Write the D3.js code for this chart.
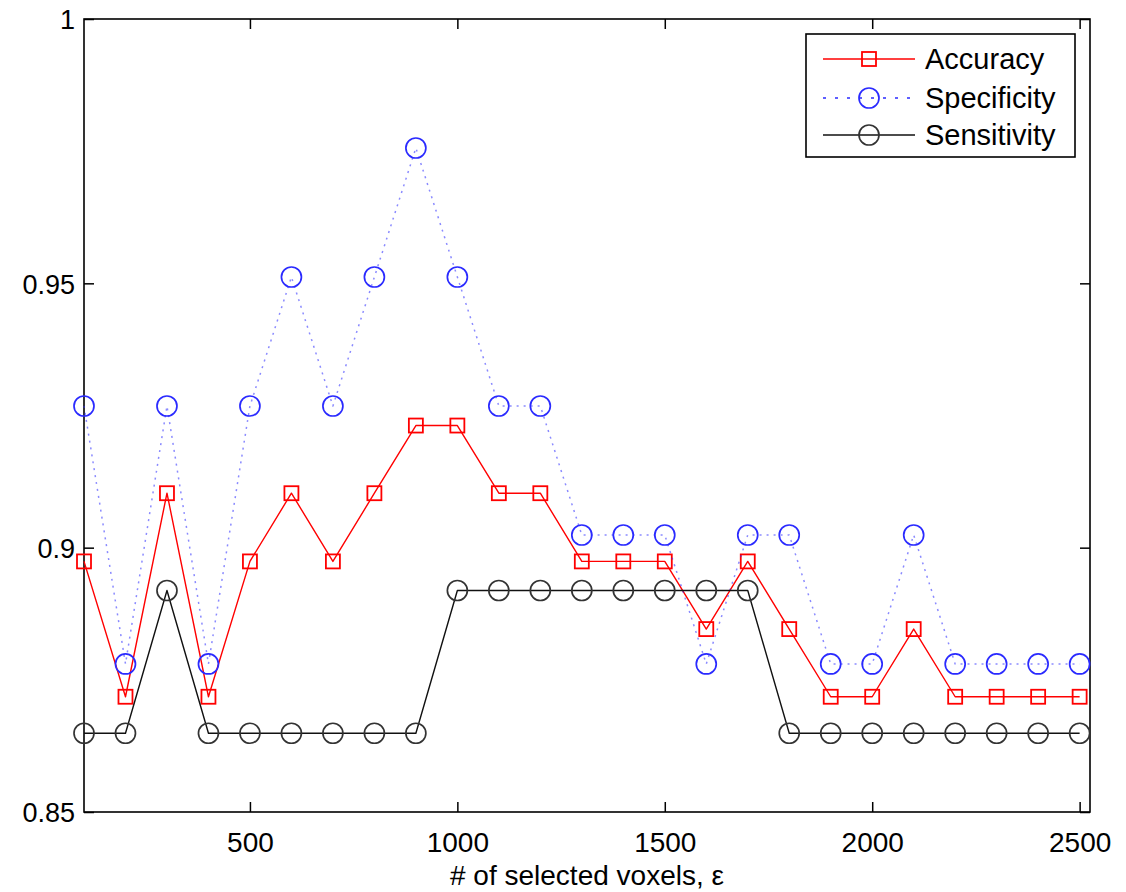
<!DOCTYPE html>
<html>
<head>
<meta charset="utf-8">
<script src="https://cdn.jsdelivr.net/npm/d3@7"></script>
<style>
  html, body { margin: 0; padding: 0; background: #fff; }
  svg { display: block; font-family: "Liberation Sans", Arial, sans-serif; }
</style>
</head>
<body>
<svg id="chart" width="1126" height="892"></svg>
<script>
// ---- data ----
const voxels = [100,200,300,400,500,600,700,800,900,1000,1100,1200,1300,1400,1500,1600,1700,1800,1900,2000,2100,2200,2300,2400,2500];
const accuracy = [0.8974,0.8718,0.9103,0.8718,0.8974,0.9103,0.8974,0.9103,0.9231,0.9231,0.9103,0.9103,0.8974,0.8974,0.8974,0.8846,0.8974,0.8846,0.8718,0.8718,0.8846,0.8718,0.8718,0.8718,0.8718];
const specificity = [0.9268,0.8780,0.9268,0.8780,0.9268,0.9512,0.9268,0.9512,0.9756,0.9512,0.9268,0.9268,0.9024,0.9024,0.9024,0.8780,0.9024,0.9024,0.8780,0.8780,0.9024,0.8780,0.8780,0.8780,0.8780];
const sensitivity = [0.8649,0.8649,0.8919,0.8649,0.8649,0.8649,0.8649,0.8649,0.8649,0.8919,0.8919,0.8919,0.8919,0.8919,0.8919,0.8919,0.8919,0.8649,0.8649,0.8649,0.8649,0.8649,0.8649,0.8649,0.8649];
const xTicks = [500,1000,1500,2000,2500];
const yTicks = [0.85,0.9,0.95,1];
const yTickLabels = ["0.85","0.9","0.95","1"];
const seriesNames = ["Accuracy","Specificity","Sensitivity"];
const xLabel = "# of selected voxels, ε";

// ---- layout ----
const L = 84, R = 1090, T = 19, B = 812;
const svg = d3.select("#chart");
const x = d3.scaleLinear().domain([100, 2525]).range([L, R]);
const y = d3.scaleLinear().domain([0.85, 1]).range([B, T]);

const styles = {
  Accuracy:    {color: "#ff0000", dash: null,   width: 1.4, marker: "square"},
  Specificity: {color: "#2a2aff", dash: "2,5",  width: 1.5, marker: "circle"},
  Sensitivity: {color: "#111111", dash: null,   width: 1.4, marker: "circle"}
};
const seriesData = {Accuracy: accuracy, Specificity: specificity, Sensitivity: sensitivity};

// axes frame with inward ticks
const tickLen = 10;
const gx = svg.append("g").attr("transform", `translate(0,${B})`)
  .call(d3.axisBottom(x).tickValues(xTicks).tickSizeInner(-tickLen).tickSizeOuter(0).tickFormat(d3.format("d")));
const gxTop = svg.append("g").attr("transform", `translate(0,${T})`)
  .call(d3.axisTop(x).tickValues(xTicks).tickSizeInner(-tickLen).tickSizeOuter(0).tickFormat(""));
const gy = svg.append("g").attr("transform", `translate(${L},0)`)
  .call(d3.axisLeft(y).tickValues(yTicks).tickSizeInner(-tickLen).tickSizeOuter(0).tickFormat((d,i) => yTickLabels[i]));
const gyR = svg.append("g").attr("transform", `translate(${R},0)`)
  .call(d3.axisRight(y).tickValues(yTicks).tickSizeInner(-tickLen).tickSizeOuter(0).tickFormat(""));
[gx, gxTop, gy, gyR].forEach(g => {
  g.select(".domain").remove();
  g.selectAll(".tick line").attr("stroke", "#000").attr("stroke-width", 1.5);
});
gx.selectAll(".tick text").attr("font-size", 28).attr("fill", "#000")
  .attr("font-family", "Liberation Sans, Arial, sans-serif").attr("y", 40).attr("dy", 0);
gy.selectAll(".tick text").attr("font-size", 27).attr("fill", "#000")
  .attr("font-family", "Liberation Sans, Arial, sans-serif").attr("x", -9).attr("dy", "0.36em");

svg.append("rect").attr("x", L).attr("y", T).attr("width", R - L).attr("height", B - T)
  .attr("fill", "none").attr("stroke", "#000").attr("stroke-width", 1.6);

const plot = svg.append("g");

function drawMarker(g, type, cx, cy, color) {
  if (type === "square") {
    g.append("rect").attr("x", cx - 7).attr("y", cy - 7).attr("width", 14).attr("height", 14)
      .attr("fill", "none").attr("stroke", color).attr("stroke-width", 1.8);
  } else {
    g.append("circle").attr("cx", cx).attr("cy", cy).attr("r", 10)
      .attr("fill", "none").attr("stroke", color).attr("stroke-width", 1.7);
  }
}

const line = d3.line().x((d, i) => x(voxels[i])).y(d => y(d));
seriesNames.forEach(name => {
  const s = styles[name];
  const vals = seriesData[name];
  const p = plot.append("path").datum(vals).attr("d", line)
    .attr("fill", "none").attr("stroke", s.color).attr("stroke-width", s.width)
    .attr("stroke-linejoin", "round");
  if (s.dash) p.attr("stroke-dasharray", s.dash).attr("stroke-opacity", 0.55);
  const mg = plot.append("g");
  vals.forEach((v, i) => drawMarker(mg, s.marker, x(voxels[i]), y(v), name === "Sensitivity" ? "#333" : s.color));
});

// x label
svg.append("text").attr("x", (L + R) / 2).attr("y", 885).attr("text-anchor", "middle")
  .attr("font-size", 28).attr("fill", "#000").text(xLabel);

// legend
const lg = svg.append("g");
lg.append("rect").attr("x", 806).attr("y", 34).attr("width", 269).attr("height", 123)
  .attr("fill", "#fff").attr("stroke", "#000").attr("stroke-width", 1.6);
const rowY = [59, 98, 135];
seriesNames.forEach((name, i) => {
  const s = styles[name];
  const ly = rowY[i];
  const l = lg.append("line").attr("x1", 823).attr("x2", 915).attr("y1", ly).attr("y2", ly)
    .attr("stroke", s.color).attr("stroke-width", s.width);
  if (s.dash) l.attr("stroke-dasharray", "3,9");
  drawMarker(lg, s.marker, 869, ly, name === "Sensitivity" ? "#333" : s.color);
  lg.append("text").attr("x", 925).attr("y", ly + 10).attr("font-size", 29).attr("fill", "#000").text(name);
});
</script>
</body>
</html>
